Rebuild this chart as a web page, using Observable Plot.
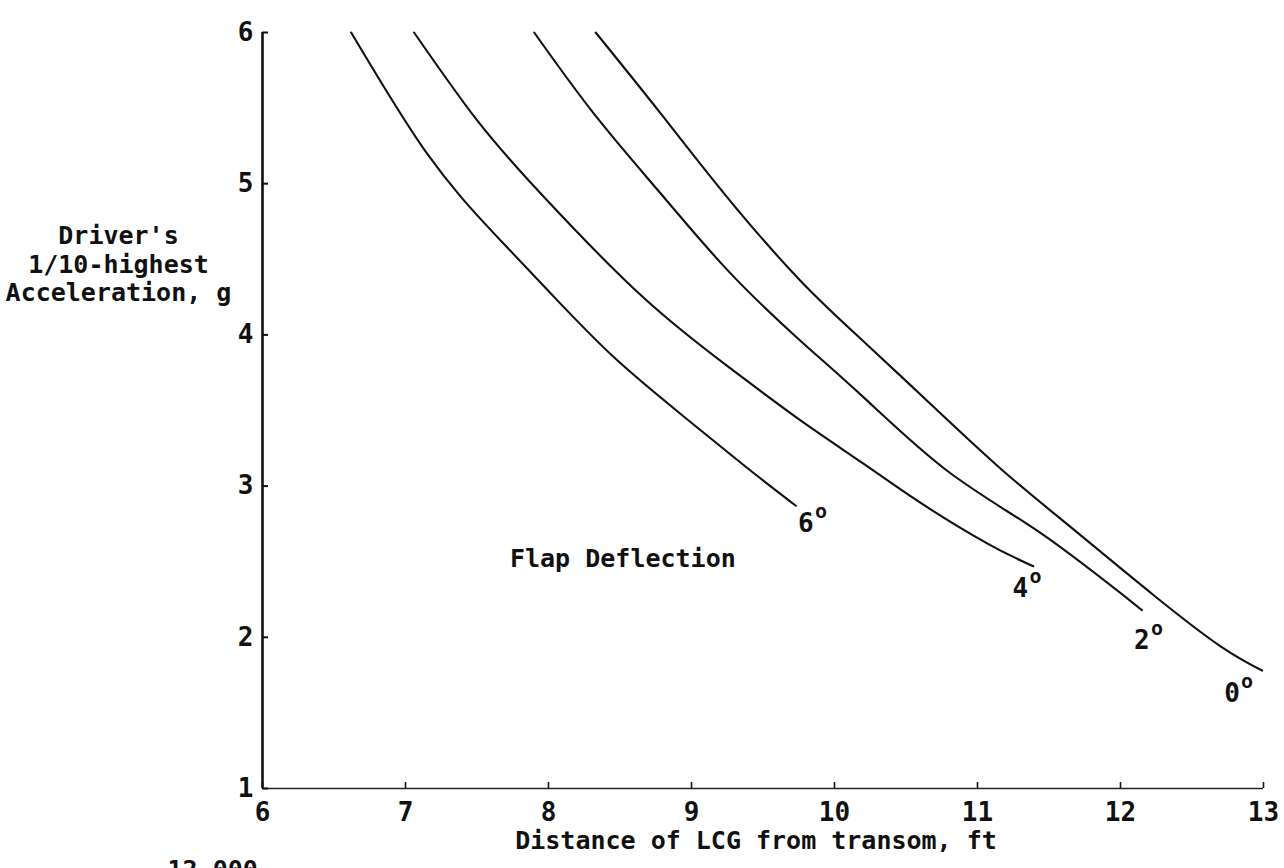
<!DOCTYPE html>
<html>
<head>
<meta charset="utf-8">
<script src="https://cdn.jsdelivr.net/npm/d3@7"></script>
<script src="https://cdn.jsdelivr.net/npm/@observablehq/plot@0.6"></script>
<style>
  html, body { margin: 0; padding: 0; background: #fff; overflow: hidden; }
  #chart { width: 1284px; height: 868px; }
</style>
</head>
<body>
<div id="chart"></div>
<script>
// Flap deflection series (x = distance of LCG from transom, ft; y = 1/10-highest acceleration, g)
const flapNames = ["6", "4", "2", "0"];

const flap6X = [6.62, 7.15, 7.62, 8.04, 8.46, 8.92, 9.39, 9.73];
const flap6Y = [6.00, 5.20, 4.67, 4.25, 3.85, 3.48, 3.12, 2.87];

const flap4X = [7.06, 7.50, 7.97, 8.66, 9.27, 9.74, 10.20, 10.60, 11.07, 11.39];
const flap4Y = [6.00, 5.42, 4.91, 4.25, 3.78, 3.45, 3.15, 2.89, 2.62, 2.47];

const flap2X = [7.90, 8.32, 8.78, 9.25, 9.74, 10.20, 10.79, 11.44, 12.15];
const flap2Y = [6.00, 5.46, 4.94, 4.43, 3.98, 3.59, 3.10, 2.69, 2.18];

const flap0X = [8.33, 8.78, 9.25, 9.76, 10.20, 10.72, 11.18, 11.65, 12.23, 12.70, 12.99];
const flap0Y = [6.00, 5.47, 4.91, 4.36, 3.96, 3.50, 3.10, 2.73, 2.28, 1.94, 1.78];

// Curve end labels (degrees), in data coordinates
const labelText = ["6", "4", "2", "0"];
const labelX = [9.80, 11.30, 12.15, 12.78];
const labelY = [2.75, 2.32, 1.98, 1.63];

// Axis ticks
const xTicks = [6, 7, 8, 9, 10, 11, 12, 13];
const yTicks = [1, 2, 3, 4, 5, 6];

// Annotation
const noteText = ["Flap Deflection"];
const noteX = [8.52];
const noteY = [2.52];

const seriesX = [flap6X, flap4X, flap2X, flap0X];
const seriesY = [flap6Y, flap4Y, flap2Y, flap0Y];
const rows = [];
flapNames.forEach((name, i) => {
  seriesX[i].forEach((x, j) => rows.push({flap: name, x, y: seriesY[i][j]}));
});
const labels = labelText.map((t, i) => ({t, x: labelX[i], y: labelY[i]}));
const notes = noteText.map((t, i) => ({t, x: noteX[i], y: noteY[i]}));

const FONT = "'DejaVu Sans Mono', monospace";
const INK = "#111";

const plot = Plot.plot({
  width: 1284,
  height: 868,
  marginLeft: 262,
  marginRight: 21,
  marginTop: 32,
  marginBottom: 80,
  style: {fontFamily: FONT, fontWeight: "bold", fontSize: "26px", color: INK, background: "#fff"},
  x: {domain: [6, 13]},
  y: {domain: [1, 6]},
  marks: [
    // axis lines
    Plot.ruleX([6], {stroke: INK, strokeWidth: 2.6}),
    Plot.ruleY([1], {stroke: "#222", strokeWidth: 1.6}),
    // inward ticks
    Plot.axisY({ticks: yTicks, anchor: "left", tickSize: 6, dx: 6, fill: "none", stroke: INK, strokeWidth: 2, label: null}),
    Plot.axisX({ticks: xTicks, anchor: "bottom", tickSize: 6, dy: -6, fill: "none", stroke: INK, strokeWidth: 1.6, label: null}),
    // tick labels
    Plot.axisY({ticks: yTicks, anchor: "left", tickSize: 0, tickPadding: 9, fill: INK, fontSize: 26, fontWeight: "bold", tickFormat: d => String(d), label: null}),
    Plot.axisX({ticks: xTicks, anchor: "bottom", tickSize: 0, tickPadding: 14, fill: INK, fontSize: 26, fontWeight: "bold", tickFormat: d => String(d), label: null}),
    // curves
    Plot.line(rows, {x: "x", y: "y", z: "flap", curve: "natural", stroke: INK, strokeWidth: 2.1}),
    // degree labels
    Plot.text(labels, {x: "x", y: "y", text: "t", fontSize: 26, fontWeight: "bold", fill: INK}),
    Plot.text(labels, {x: "x", y: "y", text: () => "o", dx: 15, dy: -12, fontSize: 20, fontWeight: "bold", fill: INK}),
    // annotation
    Plot.text(notes, {x: "x", y: "y", text: "t", fontSize: 25, fontWeight: "bold", fill: INK}),
    // axis titles
    Plot.text(["Driver's\n1/10-highest\nAcceleration, g"], {frameAnchor: "left", dx: -144, dy: -147, text: d => d, textAnchor: "middle", lineHeight: 1.14, fontSize: 25, fontWeight: "bold", fill: INK}),
    Plot.text(["Distance of LCG from transom, ft"], {frameAnchor: "bottom", dx: -7, dy: 60, text: d => d, textAnchor: "middle", fontSize: 25, fontWeight: "bold", fill: INK}),
    // remnant of the next figure, cut by the bottom edge as in the source
    Plot.text(["12,000"], {frameAnchor: "bottom-left", dx: -95, dy: 72, text: d => d, textAnchor: "start", lineAnchor: "top", fontSize: 25, fontWeight: "bold", fill: INK})
  ]
});
document.getElementById("chart").appendChild(plot);
</script>
</body>
</html>
